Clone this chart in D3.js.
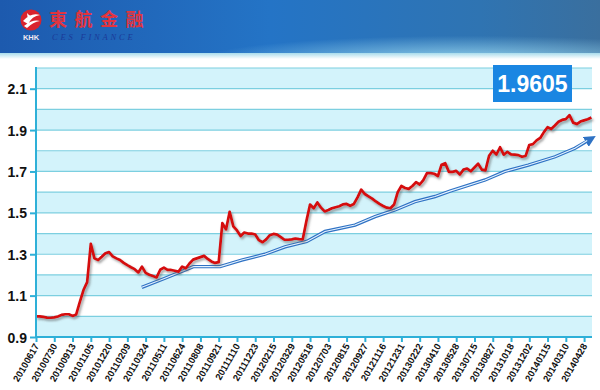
<!DOCTYPE html>
<html>
<head>
<meta charset="utf-8">
<script src="https://cdn.jsdelivr.net/npm/d3@7"></script>
<style>
  body { margin: 0; background: #fff; }
  svg { display: block; }
</style>
</head>
<body>
<div id="chart"></div>
<script>
// x-axis labels, one every 30 trading days
var dateLabels = ["20100617", "20100730", "20100913", "20101105", "20101220", "20110209",
  "20110324", "20110511", "20110624", "20110808", "20110921", "20111110", "20111223",
  "20120215", "20120329", "20120518", "20120703", "20120815", "20120927", "20121116",
  "20121231", "20130222", "20130410", "20130528", "20130715", "20130827", "20131018",
  "20131202", "20140115", "20140310", "20140428"];

var yTicks = [0.9, 1.1, 1.3, 1.5, 1.7, 1.9, 2.1];
var lastValue = "1.9605";

// net value, one reading every 6 trading days (5 per label step)
var netValues = [
  1.000, 1.000, 0.997, 0.994, 0.993, 0.995, 0.999, 1.007, 1.010, 1.010,
  1.002, 1.009, 1.070, 1.127, 1.165, 1.350, 1.280, 1.272, 1.288, 1.305,
  1.310, 1.290, 1.280, 1.272, 1.258, 1.247, 1.237, 1.228, 1.212, 1.240,
  1.210, 1.201, 1.195, 1.188, 1.225, 1.235, 1.224, 1.224, 1.220, 1.216,
  1.240, 1.232, 1.255, 1.274, 1.280, 1.286, 1.292, 1.277, 1.265, 1.258,
  1.262, 1.450, 1.420, 1.505, 1.435, 1.415, 1.388, 1.405, 1.400, 1.400,
  1.395, 1.368, 1.358, 1.372, 1.392, 1.398, 1.395, 1.383, 1.370, 1.370,
  1.372, 1.376, 1.373, 1.372, 1.460, 1.540, 1.522, 1.550, 1.525, 1.507,
  1.514, 1.522, 1.527, 1.532, 1.541, 1.543, 1.534, 1.543, 1.575, 1.612,
  1.591, 1.580, 1.569, 1.555, 1.543, 1.533, 1.525, 1.522, 1.540, 1.600,
  1.630, 1.620, 1.616, 1.630, 1.648, 1.637, 1.658, 1.692, 1.692, 1.689,
  1.678, 1.733, 1.740, 1.698, 1.698, 1.703, 1.685, 1.709, 1.714, 1.701,
  1.719, 1.737, 1.709, 1.705, 1.776, 1.800, 1.782, 1.817, 1.781, 1.795,
  1.783, 1.781, 1.779, 1.771, 1.775, 1.828, 1.832, 1.850, 1.862, 1.890,
  1.914, 1.905, 1.922, 1.940, 1.949, 1.953, 1.972, 1.936, 1.929, 1.941,
  1.947, 1.952, 1.9605];
var stepsPerLabel = 5;

// trend line: position in label steps, value
var trendIndex = [5.79, 7.06, 8.61, 10.07, 11.26, 12.53, 13.63, 14.82, 15.82, 17.46,
  18.56, 19.65, 20.74, 21.84, 22.66, 24.58, 25.67, 26.95, 28.41, 29.5, 30.42];
var trendValues = [1.14, 1.184, 1.24, 1.24, 1.272, 1.30, 1.336, 1.362, 1.41, 1.441,
  1.482, 1.514, 1.554, 1.579, 1.605, 1.659, 1.70, 1.731, 1.771, 1.812, 1.86];

var width = 600, height = 390;
var plot = {left: 36, right: 592, top: 68, bottom: 337};

var svg = d3.select("#chart")
  .append("svg")
  .attr("width", width)
  .attr("height", height);

var defs = svg.append("defs");

// header gradients
var hg = defs.append("linearGradient").attr("id", "head").attr("x1", 0).attr("x2", 1);
hg.append("stop").attr("offset", "0%").attr("stop-color", "#1d5aae");
hg.append("stop").attr("offset", "45%").attr("stop-color", "#2474c6");
hg.append("stop").attr("offset", "80%").attr("stop-color", "#2f74b2");
hg.append("stop").attr("offset", "100%").attr("stop-color", "#3a6f9e");
var rg = defs.append("radialGradient").attr("id", "glow")
  .attr("cx", 0.78).attr("cy", 1.1).attr("r", 0.45);
rg.append("stop").attr("offset", "0%").attr("stop-color", "#9ad8f0").attr("stop-opacity", 0.95);
rg.append("stop").attr("offset", "100%").attr("stop-color", "#9ad8f0").attr("stop-opacity", 0);
var sg = defs.append("linearGradient").attr("id", "strip").attr("x1", 0).attr("x2", 0).attr("y1", 0).attr("y2", 1);
sg.append("stop").attr("offset", "0%").attr("stop-color", "#a9dcec");
sg.append("stop").attr("offset", "100%").attr("stop-color", "#ffffff");

var shadow = defs.append("filter").attr("id", "shadow")
  .attr("x", "-5%").attr("y", "-5%").attr("width", "110%").attr("height", "120%");
shadow.append("feDropShadow")
  .attr("dx", 1.5).attr("dy", 2)
  .attr("stdDeviation", 1)
  .attr("flood-color", "#555")
  .attr("flood-opacity", 0.55);

var ah = defs.append("marker").attr("id", "arrow")
  .attr("viewBox", "0 0 10 10").attr("refX", 6).attr("refY", 5)
  .attr("markerWidth", 3.4).attr("markerHeight", 3.4)
  .attr("orient", "auto");
ah.append("path").attr("d", "M0,0 L10,5 L0,10 Z").attr("fill", "#2f72c4");

// header
svg.append("rect").attr("width", width).attr("height", 55).attr("fill", "url(#head)");
svg.append("rect").attr("width", width).attr("height", 55).attr("fill", "url(#glow)");
svg.append("rect").attr("y", 53).attr("width", width).attr("height", 6).attr("fill", "url(#strip)");

var logo = svg.append("g").attr("transform", "translate(31,20)");
logo.append("circle").attr("r", 10.5).attr("fill", "#d9232e");
logo.append("path")
  .attr("d", "M-8,1 Q0,-8 9,-5 Q1,-4 -3,4 Z M-7,6 Q2,-1 9,1 Q2,2 -4,8 Z M-4,-7 Q-1,-3 2,-4 Q-2,-1 -3,1 Z")
  .attr("fill", "#fff");
svg.append("text")
  .attr("x", 31).attr("y", 40)
  .attr("text-anchor", "middle")
  .style("font-family", "Liberation Sans, Arial")
  .style("font-weight", "bold")
  .style("font-size", "7.5px")
  .attr("fill", "#f0e8f0")
  .text("KHK");
svg.append("text")
  .attr("x", 49).attr("y", 26)
  .style("font-family", "Noto Sans CJK TC")
  .style("font-weight", "bold")
  .style("font-size", "18px")
  .style("letter-spacing", "7.5px")
  .attr("fill", "#e2343e")
  .text("東航金融");
svg.append("text")
  .attr("x", 52).attr("y", 39.5)
  .style("font-family", "Liberation Serif, serif")
  .style("font-style", "italic")
  .style("font-size", "8.5px")
  .style("letter-spacing", "2.8px")
  .attr("fill", "#1b3a98")
  .text("CES FINANCE");

// scales
var x = d3.scaleLinear()
  .domain([0, dateLabels.length - 1])
  .range([plot.left, 584.1]);

var y = d3.scaleLinear()
  .domain([0.9, 2.2])
  .range([plot.bottom, plot.top]);

// alternating bands and grid lines every 0.1
var gridVals = d3.range(0.9, 2.2001, 0.1).map(function (v) { return +v.toFixed(1); });
svg.selectAll(".band")
  .data(gridVals.slice(0, -1).filter(function (v, i) { return i % 2 === 0; }))
  .enter()
  .append("rect")
  .attr("x", plot.left)
  .attr("y", function (d) { return y(d + 0.1); })
  .attr("width", plot.right - plot.left)
  .attr("height", function (d) { return y(d) - y(d + 0.1); })
  .attr("fill", "#d3f3fb");

svg.selectAll(".grid")
  .data(gridVals.slice(1))
  .enter()
  .append("line")
  .attr("x1", plot.left).attr("x2", plot.right)
  .attr("y1", function (d) { return y(d); })
  .attr("y2", function (d) { return y(d); })
  .attr("stroke", "#7ccfe0")
  .attr("stroke-width", 1.2);

// trend line
var trendLine = d3.line()
  .x(function (d) { return x(d[0]); })
  .y(function (d) { return y(d[1]); });
var trendData = trendIndex.map(function (t, i) { return [t, trendValues[i]]; });

svg.append("path")
  .datum(trendData)
  .attr("d", trendLine)
  .attr("fill", "none")
  .attr("stroke", "#2f72c4")
  .attr("stroke-width", 3.4)
  .attr("marker-end", "url(#arrow)");
svg.append("path")
  .datum(trendData.slice(0, -1).concat([[trendIndex[trendIndex.length - 1] - 0.25,
    trendValues[trendValues.length - 1] - 0.01]]))
  .attr("d", trendLine)
  .attr("fill", "none")
  .attr("stroke", "#e6f3ff")
  .attr("stroke-width", 1.1);

// net value line
var netLine = d3.line()
  .x(function (d, i) { return x(i / stepsPerLabel); })
  .y(function (d) { return y(d); });

svg.append("path")
  .datum(netValues)
  .attr("d", netLine)
  .attr("fill", "none")
  .attr("stroke", "#d5070e")
  .attr("stroke-width", 2.7)
  .attr("stroke-linejoin", "round")
  .attr("filter", "url(#shadow)");

// axes
var yAxis = d3.axisLeft(y).tickValues(yTicks).tickSize(6).tickFormat(d3.format(".1f"));
svg.append("g")
  .attr("class", "y-axis")
  .attr("transform", "translate(" + plot.left + ",0)")
  .call(yAxis)
  .call(function (g) {
    g.select(".domain").attr("d", "M0," + (plot.top - 1) + "V" + (plot.bottom + 1));
    g.selectAll("line, .domain").attr("stroke", "#2eb0d8").attr("stroke-width", 2);
    g.selectAll("text")
      .attr("x", -9).attr("dy", "0.36em")
      .style("font-family", "Liberation Sans, Arial")
      .style("font-weight", "bold")
      .style("font-size", "14px")
      .attr("fill", "#111");
  });

var xAxis = d3.axisBottom(x)
  .tickValues(d3.range(dateLabels.length))
  .tickSize(5)
  .tickFormat(function (d) { return dateLabels[d]; });
svg.append("g")
  .attr("class", "x-axis")
  .attr("transform", "translate(0," + plot.bottom + ")")
  .call(xAxis)
  .call(function (g) {
    g.select(".domain").attr("d", "M" + plot.left + ",0H" + plot.right);
    g.selectAll("line, .domain").attr("stroke", "#2eb0d8").attr("stroke-width", 2);
    g.selectAll("text")
      .attr("x", 0).attr("y", 0).attr("dy", 0)
      .attr("transform", "translate(3,9) rotate(-60)")
      .style("text-anchor", "end")
      .style("font-family", "Liberation Sans, Arial")
      .style("font-weight", "bold")
      .style("font-size", "9.5px")
      .attr("fill", "#111");
  });

// latest value box
svg.append("rect")
  .attr("x", 493).attr("y", 65)
  .attr("width", 79).attr("height", 37)
  .attr("fill", "#1a86e2");
svg.append("text")
  .attr("x", 532.5).attr("y", 92)
  .attr("text-anchor", "middle")
  .style("font-family", "Liberation Sans, Arial")
  .style("font-weight", "bold")
  .style("font-size", "23px")
  .attr("fill", "#fff")
  .text(lastValue);
</script>
</body>
</html>
